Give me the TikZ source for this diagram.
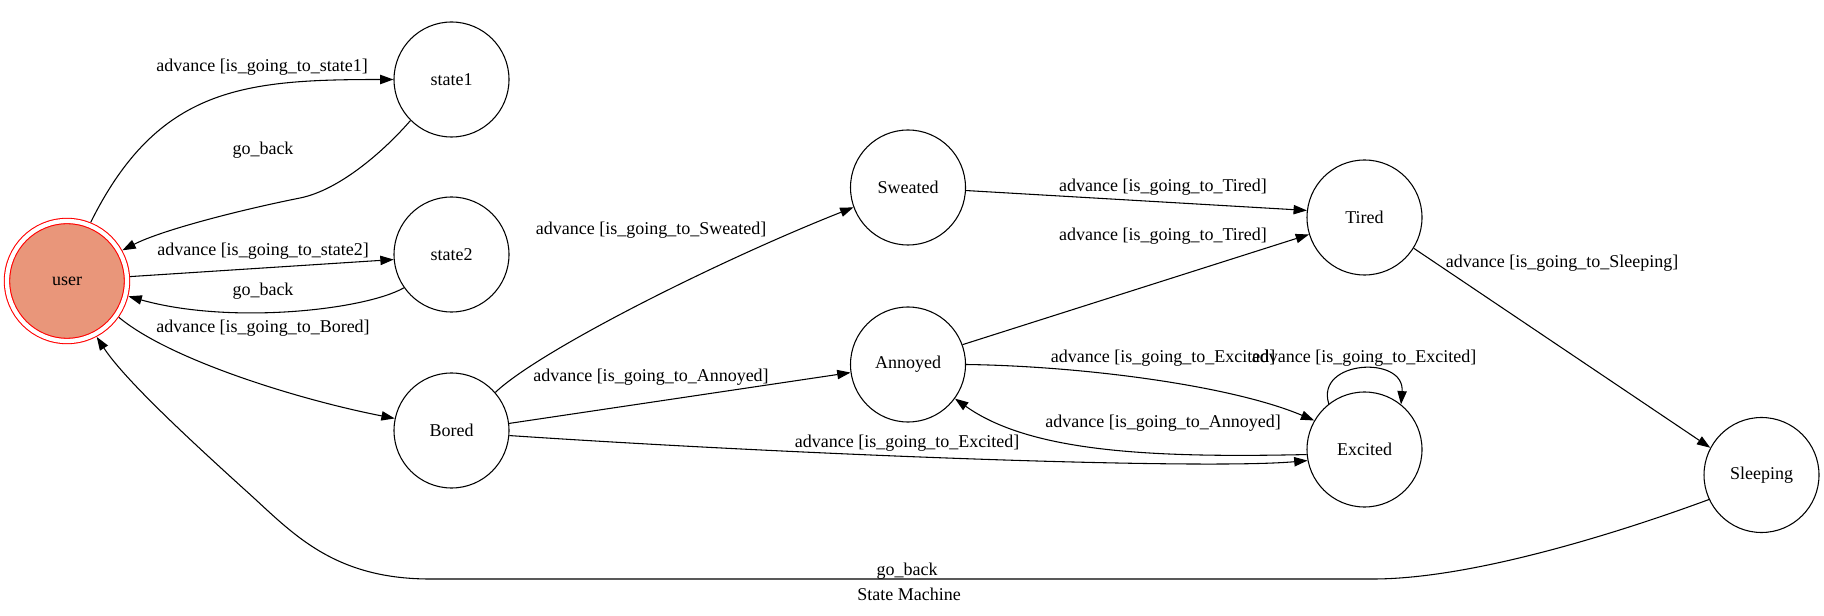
\documentclass[tikz,border=0pt]{standalone}
\usepackage{fontspec}
\setmainfont{Liberation Serif}
\usetikzlibrary{arrows.meta,positioning}
\definecolor{usrfill}{RGB}{233,150,122}
\tikzset{
  st/.style = {draw, circle, line width=0.8pt, minimum size=86.25pt, inner sep=0pt},
  us/.style = {draw=red, circle, line width=0.8pt, double=white, double distance=3.2pt, fill=usrfill, minimum size=90pt, inner sep=0pt, outer sep=2.5pt},
  lbl/.style = {inner sep=0pt},
  arrow/.style = {line width=0.8pt, -{Triangle[length=10pt,width=7pt]}}
}
\begin{document}
\begin{tikzpicture}[x=0.75pt, y=0.75pt, font=\fontsize{13.5}{16}\selectfont]
        \useasboundingbox (0,0) rectangle (1824,-616);
        \node[us] (user) at (67,-281) {user};
        \node[st] (st1) at (451.5,-79.5) {state1};
        \node[st, below=44.2pt of st1] (st2) {state2};
        \node[st, below=44.95pt of st2] (bored) {Bored};
        \node[st] (sweat) at (908,-187.5) {Sweated};
        \node[st, below=45.7pt of sweat] (annoy) {Annoyed};
        \node[st] (tired) at (1364.5,-217.5) {Tired};
        \node[st, below=86.95pt of tired] (excit) {Excited};
        \node[st] (sleep) at (1761.5,-475) {Sleeping};
        \node[lbl] (l1) at (262,-67) {advance [is\_going\_to\_state1]};
        \node[lbl] (l2) at (263,-150) {go\_back};
        \node[lbl] (l3) at (263,-251) {advance [is\_going\_to\_state2]};
        \node[lbl] (l4) at (263,-291) {go\_back};
        \node[lbl] (l5) at (263,-328) {advance [is\_going\_to\_Bored]};
        \node[lbl] (l6) at (651,-230) {advance [is\_going\_to\_Sweated]};
        \node[lbl] (l7) at (651,-377) {advance [is\_going\_to\_Annoyed]};
        \node[lbl] (l8) at (1163,-187) {advance [is\_going\_to\_Tired]};
        \node[lbl] (l9) at (1163,-236) {advance [is\_going\_to\_Tired]};
        \node[lbl] (l10) at (907,-443) {advance [is\_going\_to\_Excited]};
        \node[lbl] (l11) at (1163,-358) {advance [is\_going\_to\_Excited]};
        \node[lbl] (l12) at (1364,-358) {advance [is\_going\_to\_Excited]};
        \node[lbl] (l13) at (1163,-423) {advance [is\_going\_to\_Annoyed]};
        \node[lbl] (l14) at (1562,-263) {advance [is\_going\_to\_Sleeping]};
        \node[lbl] (l15) at (907,-571) {go\_back};
        \node[lbl] (title) at (909,-594) {State Machine};
        \draw[arrow] (user.68) .. controls (158,-87) and (244,-79.5) .. (st1.west);
        \draw[arrow] (st1.225) .. controls (385,-150) and (340,-190) .. (300,-198) .. controls (240,-210) and (162,-230) .. (user.29);
        \draw[arrow] (user.4) -- (st2.185);
        \draw[arrow] (st2.215) .. controls (365,-310) and (230,-325) .. (user.-14);
        \draw[arrow] (user.-35) .. controls (170,-360) and (300,-400) .. (bored.168);
        \draw[arrow] (sleep.205) .. controls (1640,-525) and (1480,-579) .. (1373,-579) -- (430,-579) .. controls (330,-579) and (290,-530) .. (244,-489) .. controls (190,-440) and (124,-379) .. (user.-62);
        \draw[arrow] (bored.41) .. controls (540,-350) and (720,-260) .. (sweat.200);
        \draw[arrow] (bored.7) -- (annoy.188);
        \draw[arrow] (bored.-5) .. controls (800,-455) and (1200,-470) .. (excit.191);
        \draw[arrow] (annoy.20) -- (tired.197);
        \draw[arrow] (sweat.-3) -- (tired.173);
        \draw[arrow] (tired.-32) -- (sleep.152);
        \draw[arrow] (annoy.0) .. controls (1080,-366) and (1230,-385) .. (excit.150);
        \draw[arrow] (excit.185) .. controls (1150,-458) and (1030,-452) .. (annoy.-36);
        \draw[arrow] (excit.128) .. controls (1315,-360) and (1405,-355) .. (excit.51);
    \end{tikzpicture}
\end{document}
